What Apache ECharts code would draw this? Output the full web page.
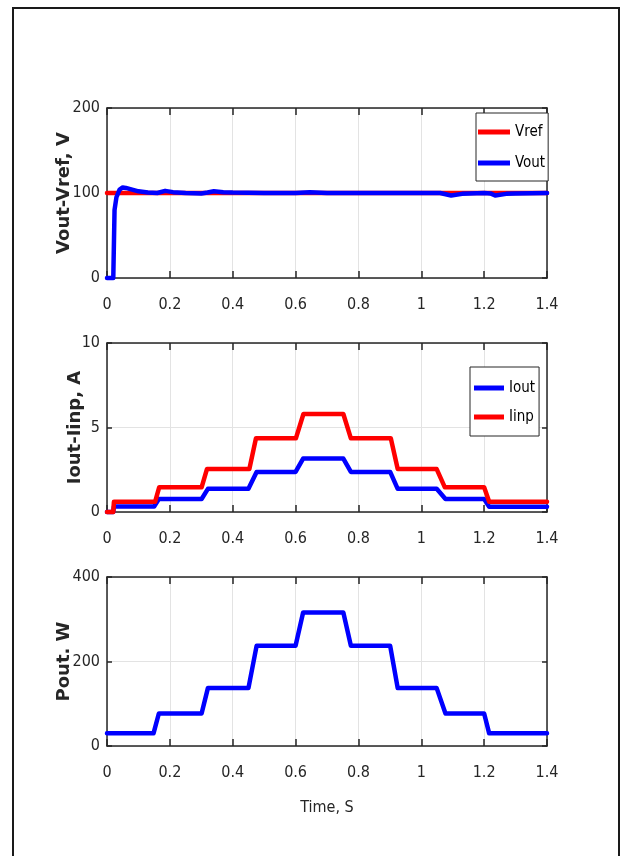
<!DOCTYPE html>
<html><head><meta charset="utf-8">
<script src="https://cdn.jsdelivr.net/npm/echarts@6/dist/echarts.min.js"></script>
<style>html,body{margin:0;padding:0;background:#fff}#c{width:624px;height:856px}</style>
</head><body><div id="c"></div>
<script>
// ---- axis settings ----
const timeRange = [0, 1.4];
const timeStep = 0.2;
const voltRange = [0, 200], voltStep = 100;
const currRange = [0, 10], currStep = 5;
const powRange = [0, 400], powStep = 200;

// ---- panel 1 : voltage ----
const vrefT = [0, 1.4];
const vrefV = [100, 100];
const voutT = [0, 0.02, 0.024, 0.03, 0.04, 0.05, 0.06, 0.08, 0.1, 0.13, 0.16, 0.185, 0.21, 0.25, 0.3, 0.32, 0.34, 0.37, 0.4, 0.5, 0.6, 0.645, 0.7, 0.8, 0.9, 1.0, 1.06, 1.095, 1.13, 1.2, 1.22, 1.235, 1.27, 1.3, 1.4];
const voutV = [0, 0, 80, 95, 104, 106.5, 106, 104, 102, 100.5, 100, 102.5, 101, 100, 99.5, 100.5, 102, 101, 100.5, 100, 100, 101, 100, 100, 100, 100, 100, 97, 99, 100, 99.5, 97, 99, 99.5, 100];

// ---- panel 2 : currents ----
const ioutT = [0, 0.02, 0.022, 0.150, 0.165, 0.301, 0.321, 0.450, 0.476, 0.600, 0.624, 0.752, 0.776, 0.901, 0.925, 1.049, 1.077, 1.200, 1.216, 1.4];
const ioutV = [0, 0, 0.33, 0.33, 0.77, 0.77, 1.37, 1.37, 2.37, 2.37, 3.16, 3.16, 2.37, 2.37, 1.37, 1.37, 0.77, 0.77, 0.31, 0.31];
const iinpT = [0, 0.02, 0.022, 0.153, 0.166, 0.301, 0.318, 0.453, 0.474, 0.601, 0.625, 0.752, 0.776, 0.903, 0.925, 1.049, 1.075, 1.200, 1.216, 1.4];
const iinpV = [0, 0, 0.6, 0.6, 1.46, 1.46, 2.54, 2.54, 4.36, 4.36, 5.8, 5.8, 4.36, 4.36, 2.54, 2.54, 1.46, 1.46, 0.6, 0.6];

// ---- panel 3 : power ----
const poutT = [0, 0.148, 0.165, 0.301, 0.321, 0.450, 0.476, 0.600, 0.624, 0.752, 0.776, 0.901, 0.925, 1.049, 1.077, 1.200, 1.216, 1.4];
const poutV = [30, 30, 77, 77, 137, 137, 237, 237, 316, 316, 237, 237, 137, 137, 77, 77, 30, 30];

const pairs = (t, v) => t.map((x, i) => [x, v[i]]);

const axisColor = '#262626';
const narrow = "'DejaVu Sans Condensed', 'Liberation Sans', sans-serif";
const tickFont = { fontFamily: narrow, fontSize: 16, color: axisColor };
const nameFont = { fontFamily: "'DejaVu Sans', sans-serif", fontSize: 18, fontWeight: 'bold', color: axisColor };

const grids = [
  { left: 107, width: 440, top: 108, height: 170 },
  { left: 107, width: 440, top: 343, height: 169 },
  { left: 107, width: 440, top: 577, height: 169 }
];

function xAxes(gi, name) {
  const base = { type: 'value', gridIndex: gi, min: timeRange[0], max: timeRange[1], interval: timeStep };
  return [
    Object.assign({}, base, {
      position: 'bottom',
      axisLine: { show: true, onZero: false, lineStyle: { color: axisColor, width: 1.5 } },
      axisTick: { show: true, inside: true, length: 7, lineStyle: { color: axisColor, width: 1.5 } },
      axisLabel: Object.assign({ margin: 19 }, tickFont),
      splitLine: { show: true, lineStyle: { color: '#e3e3e3', width: 1 } },
      name: name || '', nameLocation: 'middle', nameGap: 54, nameMoveOverlap: false,
      nameTextStyle: { fontFamily: narrow, fontSize: 16, color: axisColor }
    }),
    Object.assign({}, base, {
      position: 'top',
      axisLine: { show: true, onZero: false, lineStyle: { color: axisColor, width: 1.5 } },
      axisTick: { show: true, inside: true, length: 7, lineStyle: { color: axisColor, width: 1.5 } },
      axisLabel: { show: false }, splitLine: { show: false }
    })
  ];
}
function yAxes(gi, range, step, name, gap) {
  const base = { type: 'value', gridIndex: gi, min: range[0], max: range[1], interval: step };
  return [
    Object.assign({}, base, {
      position: 'left',
      axisLine: { show: true, onZero: false, lineStyle: { color: axisColor, width: 1.5 } },
      axisTick: { show: true, inside: true, length: 5, lineStyle: { color: axisColor, width: 1.5 } },
      axisLabel: Object.assign({ margin: 7 }, tickFont),
      splitLine: { show: true, lineStyle: { color: '#e3e3e3', width: 1 } },
      name: name, nameLocation: 'middle', nameGap: gap, nameRotate: 90, nameMoveOverlap: false,
      nameTextStyle: nameFont
    }),
    Object.assign({}, base, {
      position: 'right',
      axisLine: { show: true, onZero: false, lineStyle: { color: axisColor, width: 1.5 } },
      axisTick: { show: true, inside: true, length: 5, lineStyle: { color: axisColor, width: 1.5 } },
      axisLabel: { show: false }, splitLine: { show: false }
    })
  ];
}

function line(name, data, color, gi) {
  return {
    name, type: 'line', data, xAxisIndex: gi * 2, yAxisIndex: gi * 2,
    showSymbol: false, symbol: 'none', clip: false, animation: false,
    lineStyle: { color, width: 4.5, join: 'round', cap: 'round' },
    itemStyle: { color }
  };
}

const legendText = { fontFamily: narrow, fontSize: 15, lineHeight: 18, color: '#000' };

const option = {
  animation: false,
  backgroundColor: '#fff',
  grid: grids,
  xAxis: [...xAxes(0), ...xAxes(1), ...xAxes(2, 'Time, S')],
  yAxis: [
    ...yAxes(0, voltRange, voltStep, 'Vout-Vref, V', 34),
    ...yAxes(1, currRange, currStep, 'Iout-Iinp, A', 23),
    ...yAxes(2, powRange, powStep, 'Pout. W', 34)
  ],
  legend: [
    {
      data: ['Vref', 'Vout'], orient: 'vertical', left: 476, top: 113,
      padding: [10, 3, 9, 2], itemGap: 13, itemWidth: 32, itemHeight: 5, itemTextGap: 3,
      icon: 'rect', borderColor: axisColor, borderWidth: 1, backgroundColor: '#fff',
      textStyle: legendText
    },
    {
      data: ['Iout', 'Iinp'], orient: 'vertical', left: 470, top: 367,
      padding: [12, 4, 10, 4], itemGap: 11, itemWidth: 30, itemHeight: 5, itemTextGap: 4,
      icon: 'rect', borderColor: axisColor, borderWidth: 1, backgroundColor: '#fff',
      textStyle: legendText
    }
  ],
  series: [
    line('Vref', pairs(vrefT, vrefV), '#ff0000', 0),
    line('Vout', pairs(voutT, voutV), '#0000ff', 0),
    line('Iout', pairs(ioutT, ioutV), '#0000ff', 1),
    line('Iinp', pairs(iinpT, iinpV), '#ff0000', 1),
    line('Pout', pairs(poutT, poutV), '#0000ff', 2)
  ],
  graphic: [
    { type: 'rect', shape: { x: 13, y: 8, width: 606, height: 900 },
      style: { fill: 'none', stroke: '#1a1a1a', lineWidth: 2 }, silent: true, z: 100 }
  ]
};

const chart = echarts.init(document.getElementById('c'), null, { renderer: 'canvas' });
chart.setOption(option);
</script>
</body></html>
